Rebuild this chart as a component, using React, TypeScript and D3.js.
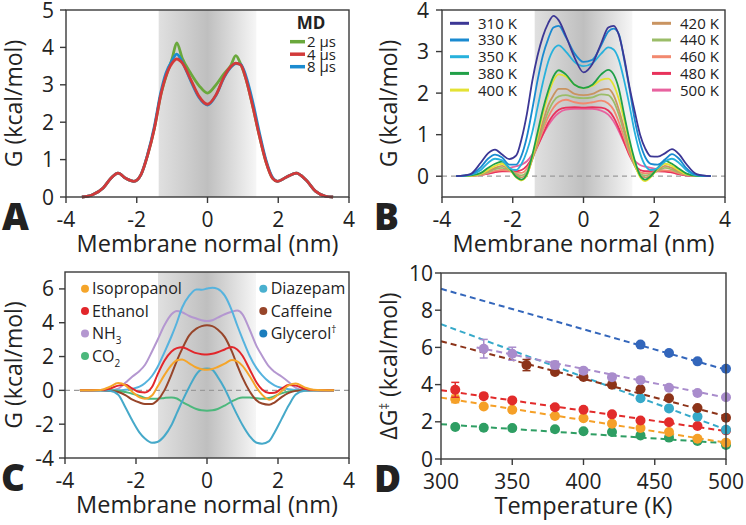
import React from 'react';
import * as d3 from 'd3';

const FONT = "'Open Sans', 'DejaVu Sans', sans-serif";
const INK = '#222';
const FRAME = '#3a3a3a';

// ---------- Panel A ----------
const xA = [-3.55, -3.25, -2.95, -2.73, -2.53, -2.31, -2.08, -1.88, -1.69, -1.5, -1.32, -1.18, -1.0, -0.87, -0.71, -0.47, -0.24, 0, 0.24, 0.47, 0.66, 0.8, 0.94, 1.08, 1.27, 1.46, 1.65, 1.84, 1.98, 2.21, 2.51, 2.78, 3.06, 3.34, 3.55];
const gA2us = [0, 0.06, 0.24, 0.5, 0.64, 0.5, 0.42, 0.6, 1.13, 1.84, 2.73, 3.2, 3.7, 4.12, 3.7, 3.3, 2.98, 2.78, 3.0, 3.3, 3.52, 3.78, 3.55, 3.18, 2.46, 1.66, 0.95, 0.5, 0.42, 0.52, 0.64, 0.46, 0.15, 0.02, 0];
const gA4us = [0, 0.06, 0.24, 0.5, 0.64, 0.5, 0.42, 0.6, 1.13, 1.84, 2.73, 3.22, 3.58, 3.69, 3.58, 3.13, 2.69, 2.48, 2.73, 3.22, 3.49, 3.58, 3.53, 3.18, 2.46, 1.66, 0.95, 0.5, 0.42, 0.52, 0.64, 0.46, 0.15, 0.02, 0];
const gA8us = [0, 0.06, 0.24, 0.5, 0.64, 0.5, 0.42, 0.6, 1.15, 1.9, 2.8, 3.3, 3.65, 3.82, 3.6, 3.1, 2.66, 2.46, 2.72, 3.2, 3.47, 3.57, 3.55, 3.25, 2.58, 1.75, 1.0, 0.52, 0.42, 0.52, 0.64, 0.46, 0.15, 0.02, 0];
const mdLabels = ['2 µs', '4 µs', '8 µs'];
const mdColors = ['#6aa83c', '#d23a3a', '#1b8bd0'];

// ---------- Panel B ----------
const xB = [-3.6, -3.2, -2.9, -2.7, -2.5, -2.3, -2.1, -1.9, -1.75, -1.6, -1.45, -1.3, -1.15, -1.0, -0.85, -0.7, -0.5, -0.25, 0, 0.25, 0.5, 0.7, 0.85, 1.0, 1.15, 1.3, 1.45, 1.6, 1.75, 1.9, 2.1, 2.3, 2.5, 2.7, 2.9, 3.2, 3.6];
const gB310 = [0, 0.05, 0.33, 0.55, 0.64, 0.52, 0.41, 0.5, 0.9, 1.5, 2.28, 2.9, 3.36, 3.68, 3.86, 3.75, 3.38, 2.85, 2.5, 2.7, 3.2, 3.58, 3.62, 3.4, 2.85, 2.15, 1.55, 1.0, 0.66, 0.48, 0.47, 0.55, 0.65, 0.53, 0.3, 0.05, 0];
const gB330 = [0, 0.04, 0.22, 0.42, 0.52, 0.45, 0.28, 0.28, 0.5, 0.95, 1.6, 2.3, 2.9, 3.3, 3.58, 3.62, 3.35, 2.95, 2.75, 2.8, 3.15, 3.48, 3.55, 3.42, 2.8, 2.1, 1.35, 0.8, 0.45, 0.3, 0.28, 0.4, 0.53, 0.42, 0.2, 0.03, 0];
const gB350 = [0, 0.03, 0.15, 0.32, 0.42, 0.38, 0.2, 0.15, 0.3, 0.6, 1.05, 1.65, 2.25, 2.75, 3.05, 3.15, 3.0, 2.75, 2.65, 2.72, 2.95, 3.1, 3.05, 2.8, 2.3, 1.7, 1.05, 0.55, 0.25, 0.15, 0.2, 0.35, 0.42, 0.32, 0.15, 0.02, 0];
const gB380 = [0, 0.02, 0.08, 0.2, 0.3, 0.35, 0.2, -0.02, -0.08, 0.05, 0.5, 1.05, 1.6, 2.05, 2.4, 2.55, 2.45, 2.2, 2.12, 2.2, 2.45, 2.56, 2.45, 2.1, 1.48, 0.88, 0.38, 0.02, -0.08, 0.0, 0.2, 0.37, 0.3, 0.18, 0.07, 0.01, 0];
const gB400 = [0, 0.01, 0.06, 0.15, 0.25, 0.3, 0.18, -0.03, -0.1, 0.02, 0.45, 0.95, 1.5, 1.95, 2.3, 2.45, 2.4, 2.2, 2.12, 2.17, 2.32, 2.35, 2.2, 1.85, 1.35, 0.8, 0.3, -0.02, -0.12, -0.02, 0.18, 0.3, 0.25, 0.14, 0.05, 0.01, 0];
const gB420 = [0, 0.01, 0.05, 0.12, 0.2, 0.25, 0.17, 0.02, -0.03, 0.05, 0.4, 0.85, 1.3, 1.7, 1.95, 2.1, 2.1, 1.98, 1.95, 1.98, 2.08, 2.1, 1.95, 1.6, 1.15, 0.7, 0.28, 0.02, -0.03, 0.02, 0.15, 0.25, 0.2, 0.11, 0.05, 0.01, 0];
const gB440 = [0, 0.01, 0.04, 0.1, 0.17, 0.2, 0.15, 0.05, 0.02, 0.1, 0.4, 0.8, 1.2, 1.55, 1.8, 1.92, 1.95, 1.9, 1.88, 1.9, 1.97, 1.95, 1.8, 1.48, 1.05, 0.62, 0.25, 0.06, 0.02, 0.05, 0.14, 0.2, 0.16, 0.09, 0.04, 0.01, 0];
const gB460 = [0, 0.01, 0.03, 0.08, 0.13, 0.15, 0.13, 0.08, 0.08, 0.18, 0.42, 0.75, 1.1, 1.42, 1.65, 1.78, 1.84, 1.78, 1.75, 1.78, 1.82, 1.75, 1.6, 1.3, 0.92, 0.55, 0.25, 0.1, 0.07, 0.08, 0.12, 0.14, 0.12, 0.07, 0.03, 0.01, 0];
const gB480 = [0, 0.01, 0.03, 0.06, 0.1, 0.12, 0.12, 0.12, 0.15, 0.25, 0.45, 0.72, 1.0, 1.28, 1.48, 1.6, 1.65, 1.66, 1.65, 1.66, 1.65, 1.58, 1.42, 1.15, 0.82, 0.5, 0.27, 0.15, 0.12, 0.12, 0.12, 0.11, 0.09, 0.05, 0.02, 0.01, 0];
const gB500 = [0, 0.01, 0.03, 0.06, 0.1, 0.15, 0.2, 0.24, 0.28, 0.36, 0.52, 0.75, 1.0, 1.22, 1.4, 1.52, 1.6, 1.62, 1.62, 1.62, 1.58, 1.48, 1.32, 1.08, 0.8, 0.55, 0.37, 0.27, 0.23, 0.2, 0.17, 0.13, 0.09, 0.05, 0.02, 0.01, 0];
const tempLabels = ['310 K', '330 K', '350 K', '380 K', '400 K', '420 K', '440 K', '460 K', '480 K', '500 K'];
const tempColors = ['#3c3795', '#1a8ad0', '#27b1dc', '#21a048', '#e4e234', '#c99461', '#9bbd68', '#f2896f', '#e8325b', '#e8629f'];
const tempSeries = [gB310, gB330, gB350, gB380, gB400, gB420, gB440, gB460, gB480, gB500];

// ---------- Panel C ----------
const xC = [-3.58, -3.0, -2.75, -2.5, -2.3, -2.1, -1.9, -1.75, -1.55, -1.4, -1.2, -1.0, -0.85, -0.7, -0.5, -0.3, -0.15, 0, 0.15, 0.3, 0.5, 0.7, 0.85, 1.0, 1.2, 1.4, 1.55, 1.75, 1.9, 2.1, 2.3, 2.5, 2.75, 3.0, 3.58];
const cIsopropanol = [0, 0.02, 0.2, 0.43, 0.3, -0.1, -0.42, -0.5, -0.3, 0.2, 0.9, 1.5, 1.78, 1.83, 1.6, 1.35, 1.25, 1.22, 1.26, 1.38, 1.58, 1.8, 1.72, 1.45, 0.85, 0.15, -0.25, -0.55, -0.42, -0.05, 0.3, 0.4, 0.18, 0.03, 0];
const cEthanol = [0, 0.02, 0.1, 0.28, 0.33, 0.1, -0.1, -0.12, 0.2, 0.9, 1.75, 2.3, 2.5, 2.55, 2.38, 2.2, 2.14, 2.12, 2.16, 2.25, 2.42, 2.57, 2.42, 2.05, 1.25, 0.45, 0.05, -0.15, -0.14, 0.1, 0.32, 0.28, 0.1, 0.02, 0];
const cNH3 = [0, 0, 0, 0.1, 0.45, 0.82, 1.15, 1.5, 2.3, 2.95, 3.85, 4.5, 4.7, 4.62, 4.4, 4.25, 4.15, 4.1, 4.15, 4.3, 4.5, 4.65, 4.72, 4.5, 3.6, 2.6, 2.05, 1.4, 1.1, 0.82, 0.5, 0.15, 0.02, 0, 0];
const cCO2 = [0, 0, 0, -0.02, -0.1, -0.2, -0.33, -0.45, -0.5, -0.5, -0.45, -0.42, -0.48, -0.68, -0.9, -1.1, -1.18, -1.2, -1.18, -1.1, -0.9, -0.65, -0.5, -0.42, -0.42, -0.46, -0.5, -0.45, -0.35, -0.18, -0.07, -0.02, 0, 0, 0];
const cDiazepam = [0, 0, -0.02, -0.26, -1.0, -1.8, -2.5, -2.85, -3.1, -3.05, -2.7, -2.05, -1.35, -0.65, 0.2, 0.95, 1.25, 1.3, 1.22, 0.8, 0.1, -0.8, -1.45, -2.05, -2.7, -3.1, -3.15, -3.0, -2.5, -1.7, -0.9, -0.25, -0.02, 0, 0];
const cCaffeine = [0, 0, -0.02, -0.1, -0.28, -0.55, -0.72, -0.8, -0.8, -0.6, 0.0, 0.95, 1.75, 2.45, 3.25, 3.65, 3.8, 3.85, 3.8, 3.6, 3.15, 2.3, 1.5, 0.75, -0.05, -0.6, -0.78, -0.85, -0.72, -0.4, -0.15, -0.03, 0, 0, 0];
const cGlycerol = [0, 0, 0, 0, 0.03, 0.1, 0.22, 0.42, 0.85, 1.35, 2.25, 3.2, 4.0, 4.9, 5.6, 5.97, 5.95, 6.02, 6.07, 6.0, 5.6, 4.72, 3.85, 3.05, 2.05, 1.3, 0.9, 0.5, 0.3, 0.15, 0.06, 0.02, 0, 0, 0];
const molLeft = ['Isopropanol', 'Ethanol', 'NH', 'CO'];
const molLeftSub = ['', '', '3', '2'];
const molLeftColors = ['#f5a52a', '#e2262b', '#b497d0', '#4cb87c'];
const molRight = ['Diazepam', 'Caffeine', 'Glycerol'];
const molRightSup = ['', '', '†'];
const molRightColors = ['#4ab0cf', '#97452a', '#1b7dbd'];

// ---------- Panel D ----------
const dGlyT = [440, 460, 480, 500];
const dGlyG = [6.15, 5.7, 5.25, 4.85];
const dNH3T = [330, 350, 380, 400, 420, 440, 460, 480, 500];
const dNH3G = [5.93, 5.66, 5.05, 4.75, 4.4, 4.24, 3.83, 3.55, 3.32];
const dNH3E = [0.5, 0.35, 0.2, 0, 0.15, 0, 0, 0, 0];
const dCafT = [360, 380, 400, 420, 440, 460, 480, 500];
const dCafG = [5.05, 4.68, 4.41, 3.99, 3.75, 3.27, 2.74, 2.22];
const dCafE = [0.3, 0.12, 0, 0, 0, 0, 0, 0];
const dDiaT = [440, 460, 480, 500];
const dDiaG = [3.27, 2.72, 2.28, 1.57];
const dFullT = [310, 330, 350, 380, 400, 420, 440, 460, 480, 500];
const dEthG = [3.72, 3.38, 3.15, 2.78, 2.65, 2.4, 2.07, 1.98, 1.77, 1.54];
const dEthE = [0.4, 0.12, 0, 0, 0, 0, 0, 0, 0, 0];
const dIsoG = [3.23, 2.82, 2.65, 2.31, 2.19, 1.9, 1.67, 1.45, 1.09, 0.88];
const dIsoE = [0.2, 0, 0, 0, 0, 0, 0, 0, 0, 0];
const dCO2G = [1.72, 1.68, 1.66, 1.6, 1.49, 1.45, 1.27, 1.15, 0.97, 0.75];
// fitted lines: [T start, G start, T end, G end]
const fitGly = [300, 9.15, 500, 4.8];
const fitNH3 = [325, 6.0, 500, 3.3];
const fitCaf = [300, 6.33, 500, 2.3];
const fitDia = [300, 7.25, 500, 1.58];
const fitEth = [300, 3.7, 500, 1.5];
const fitIso = [300, 3.3, 500, 0.88];
const fitCO2 = [300, 1.87, 500, 0.85];

const xTicksNm = [-4, -2, 0, 2, 4];
const membraneHalf = 1.38;

type Box = { x0: number; x1: number; y0: number; y1: number };

function Axes({ box, sx, sy, xTicks, yTicks, yGap, letter, letterX }: any) {
  return (
    <g fontFamily={FONT} fill={INK}>
      <rect x={box.x0} y={box.y0} width={box.x1 - box.x0} height={box.y1 - box.y0} fill="none" stroke={FRAME} strokeWidth={1.4} />
      {xTicks.map((t: number) => (
        <g key={'x' + t}>
          <line x1={sx(t)} x2={sx(t)} y1={box.y1} y2={box.y1 + 6} stroke={FRAME} strokeWidth={1.4} />
          <text x={sx(t)} y={box.y1 + 30} textAnchor="middle" fontSize={21}>{String(t)}</text>
        </g>
      ))}
      {yTicks.map((t: number) => (
        <g key={'y' + t}>
          <line x1={box.x0 - 6} x2={box.x0} y1={sy(t)} y2={sy(t)} stroke={FRAME} strokeWidth={1.4} />
          <text x={box.x0 - yGap} y={sy(t)} dy="0.36em" textAnchor="end" fontSize={21}>{String(t)}</text>
        </g>
      ))}
      <text x={letterX} y={box.y1 + 33} fontSize={37} fontWeight={800}>{letter}</text>
    </g>
  );
}

function XTitle({ box, text }: any) {
  return (
    <text x={(box.x0 + box.x1) / 2} y={box.y1 + 55} textAnchor="middle" fontSize={23.5} fontFamily={FONT} fill={INK}>{text}</text>
  );
}

function YTitle({ box, x, children }: any) {
  const cy = (box.y0 + box.y1) / 2;
  return (
    <text transform={`translate(${x},${cy}) rotate(-90)`} textAnchor="middle" fontSize={23} fontFamily={FONT} fill={INK}>{children}</text>
  );
}

function Shade({ sx, box }: any) {
  return <rect x={sx(-membraneHalf)} y={box.y0} width={sx(membraneHalf) - sx(-membraneHalf)} height={box.y1 - box.y0} fill="url(#shadeGrad)" />;
}

function curvePath(sx: any, sy: any, xs: number[], ys: number[]) {
  const pts = xs.map((x, i) => [x, ys[i]] as [number, number]);
  return d3.line<[number, number]>().x(d => sx(d[0])).y(d => sy(d[1])).curve(d3.curveMonotoneX)(pts) || '';
}

export default function App() {
  const bA: Box = { x0: 66, x1: 349, y0: 10, y1: 197 };
  const bB: Box = { x0: 442, x1: 725, y0: 10, y1: 197 };
  const bC: Box = { x0: 65, x1: 349, y0: 272, y1: 458 };
  const bD: Box = { x0: 441, x1: 726, y0: 273, y1: 459 };

  const sxA = d3.scaleLinear().domain([-4, 4]).range([bA.x0, bA.x1]);
  const syA = d3.scaleLinear().domain([0, 5]).range([bA.y1, bA.y0]);
  const sxB = d3.scaleLinear().domain([-4, 4]).range([bB.x0, bB.x1]);
  const syB = d3.scaleLinear().domain([-0.5, 4]).range([bB.y1, bB.y0]);
  const sxC = d3.scaleLinear().domain([-4, 4]).range([bC.x0, bC.x1]);
  const syC = d3.scaleLinear().domain([-4, 7]).range([bC.y1, bC.y0]);
  const sxD = d3.scaleLinear().domain([300, 500]).range([bD.x0, bD.x1]);
  const syD = d3.scaleLinear().domain([0, 10]).range([bD.y1, bD.y0]);

  const aSeries = [gA2us, gA8us, gA4us];
  const aColors = [mdColors[0], mdColors[2], mdColors[1]];

  const cSeries = [
    { ys: cNH3, c: molLeftColors[2] },
    { ys: cGlycerol, c: '#56b3de' },
    { ys: cCO2, c: molLeftColors[3] },
    { ys: cCaffeine, c: molRightColors[1] },
    { ys: cDiazepam, c: '#46a9c9' },
    { ys: cEthanol, c: molLeftColors[1] },
    { ys: cIsopropanol, c: molLeftColors[0] },
  ];

  const dSeries = [
    { T: dFullT, G: dCO2G, E: null, fit: fitCO2, c: '#2e9e63' },
    { T: dFullT, G: dIsoG, E: dIsoE, fit: fitIso, c: '#f5a028' },
    { T: dFullT, G: dEthG, E: dEthE, fit: fitEth, c: '#e22b2b' },
    { T: dDiaT, G: dDiaG, E: null, fit: fitDia, c: '#36a9c9' },
    { T: dCafT, G: dCafG, E: dCafE, fit: fitCaf, c: '#8c3319' },
    { T: dNH3T, G: dNH3G, E: dNH3E, fit: fitNH3, c: '#a98ccc' },
    { T: dGlyT, G: dGlyG, E: null, fit: fitGly, c: '#3366bb' },
  ];

  return (
    <svg width={746} height={525} style={{ position: 'absolute', left: 0, top: 0, background: '#fff' }} fontFamily={FONT}>
      <defs>
        <linearGradient id="shadeGrad" x1="0" x2="1" y1="0" y2="0">
          <stop offset="0" stopColor="#e0e0e0" />
          <stop offset="0.5" stopColor="#bfbfbf" />
          <stop offset="1" stopColor="#f6f6f6" />
        </linearGradient>
      </defs>

      {/* Panel A */}
      <Shade sx={sxA} box={bA} />
      {aSeries.map((ys, i) => (
        <path key={i} d={curvePath(sxA, syA, xA, ys)} fill="none" stroke={aColors[i]} strokeWidth={2.8} strokeLinejoin="round" />
      ))}
      <Axes box={bA} sx={sxA} sy={syA} xTicks={xTicksNm} yTicks={[0, 1, 2, 3, 4, 5]} yGap={12} letter="A" letterX={2} />
      <XTitle box={bA} text="Membrane normal (nm)" />
      <YTitle box={bA} x={22}>G (kcal/mol)</YTitle>
      <text x={311} y={29} textAnchor="middle" fontSize={17} fontWeight={700} fill={INK}>MD</text>
      {mdLabels.map((l, i) => (
        <g key={l}>
          <line x1={290} x2={305} y1={41.7 + i * 12.5} y2={41.7 + i * 12.5} stroke={mdColors[i]} strokeWidth={3.5} />
          <text x={307} y={41.7 + i * 12.5} dy="0.36em" fontSize={15} fill={INK}>{l}</text>
        </g>
      ))}

      {/* Panel B */}
      <Shade sx={sxB} box={bB} />
      <line x1={bB.x0} x2={bB.x1} y1={syB(0)} y2={syB(0)} stroke="#9a9a9a" strokeWidth={1.3} strokeDasharray="5,4" />
      {tempSeries.slice().reverse().map((ys, j) => {
        const i = tempSeries.length - 1 - j;
        return <path key={i} d={curvePath(sxB, syB, xB, ys)} fill="none" stroke={tempColors[i]} strokeWidth={1.8} strokeLinejoin="round" />;
      })}
      <Axes box={bB} sx={sxB} sy={syB} xTicks={xTicksNm} yTicks={[0, 1, 2, 3, 4]} yGap={13} letter="B" letterX={374} />
      <XTitle box={bB} text="Membrane normal (nm)" />
      <YTitle box={bB} x={397}>G (kcal/mol)</YTitle>
      {tempLabels.map((l, i) => {
        const col = i < 5 ? 0 : 1;
        const row = i % 5;
        const y = 23.3 + row * 16.7;
        const lx = col === 0 ? 450 : 652;
        return (
          <g key={l}>
            <line x1={lx} x2={lx + 19} y1={y} y2={y} stroke={tempColors[i]} strokeWidth={3} />
            <text x={lx + 28} y={y} dy="0.36em" fontSize={15} fill={INK}>{l}</text>
          </g>
        );
      })}

      {/* Panel C */}
      <Shade sx={sxC} box={bC} />
      <line x1={bC.x0} x2={bC.x1} y1={syC(0)} y2={syC(0)} stroke="#9a9a9a" strokeWidth={1.3} strokeDasharray="5,4" />
      {cSeries.map((s, i) => (
        <path key={i} d={curvePath(sxC, syC, xC, s.ys)} fill="none" stroke={s.c} strokeWidth={2} strokeLinejoin="round" />
      ))}
      <Axes box={bC} sx={sxC} sy={syC} xTicks={xTicksNm} yTicks={[-4, -2, 0, 2, 4, 6]} yGap={11} letter="C" letterX={1} />
      <XTitle box={bC} text="Membrane normal (nm)" />
      <YTitle box={bC} x={22}>G (kcal/mol)</YTitle>
      {molLeft.map((l, i) => {
        const y = 288.7 + i * 22.4;
        return (
          <g key={l}>
            <circle cx={85} cy={y} r={4} fill={molLeftColors[i]} />
            <text x={92} y={y} dy="0.36em" fontSize={16} fill={INK}>
              {l}
              {molLeftSub[i] ? <tspan dy={5} fontSize={10}>{molLeftSub[i]}</tspan> : null}
            </text>
          </g>
        );
      })}
      {molRight.map((l, i) => {
        const y = 288.7 + i * 22.4;
        return (
          <g key={l}>
            <circle cx={263.3} cy={y} r={4} fill={molRightColors[i]} />
            <text x={270.7} y={y} dy="0.36em" fontSize={16} fill={INK}>
              {l}
              {molRightSup[i] ? <tspan dy={-6} fontSize={10}>{molRightSup[i]}</tspan> : null}
            </text>
          </g>
        );
      })}

      {/* Panel D */}
      {dSeries.map((s, i) => (
        <line key={'f' + i} x1={sxD(s.fit[0])} y1={syD(s.fit[1])} x2={sxD(s.fit[2])} y2={syD(s.fit[3])} stroke={s.c} strokeWidth={2} strokeDasharray="6,4" />
      ))}
      {dSeries.map((s, i) => (
        <g key={'p' + i}>
          {s.T.map((t, k) => {
            const e = s.E ? s.E[k] : 0;
            return (
              <g key={k}>
                {e > 0 ? (
                  <g stroke={s.c} strokeWidth={1.5}>
                    <line x1={sxD(t)} x2={sxD(t)} y1={syD(s.G[k] - e)} y2={syD(s.G[k] + e)} />
                    <line x1={sxD(t) - 4} x2={sxD(t) + 4} y1={syD(s.G[k] - e)} y2={syD(s.G[k] - e)} />
                    <line x1={sxD(t) - 4} x2={sxD(t) + 4} y1={syD(s.G[k] + e)} y2={syD(s.G[k] + e)} />
                  </g>
                ) : null}
                <circle cx={sxD(t)} cy={syD(s.G[k])} r={5} fill={s.c} />
              </g>
            );
          })}
        </g>
      ))}
      <Axes box={bD} sx={sxD} sy={syD} xTicks={[300, 350, 400, 450, 500]} yTicks={[0, 2, 4, 6, 8, 10]} yGap={8} letter="D" letterX={374} />
      <XTitle box={bD} text="Temperature (K)" />
      <YTitle box={bD} x={397}>
        ΔG<tspan dy={-8} fontSize={13}>‡</tspan><tspan dy={8}> (kcal/mol)</tspan>
      </YTitle>
    </svg>
  );
}
